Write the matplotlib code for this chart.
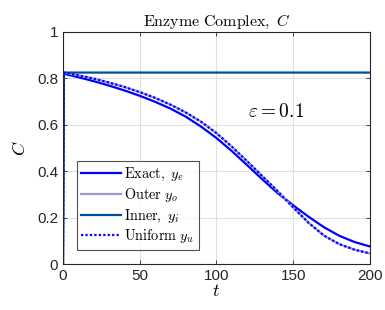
import matplotlib
matplotlib.use("Agg")
import matplotlib.pyplot as plt

plt.rcParams['mathtext.fontset'] = 'cm'
plt.rcParams['font.family'] = ['Liberation Sans', 'DejaVu Sans']

# Exact solution (solid)
t_exact = [0, 0.5, 10, 20, 30, 40, 50, 60, 70, 80, 90, 100, 110, 120, 130, 140,
           150, 160, 170, 180, 190, 200]
c_exact = [0, 0.820, 0.805, 0.788, 0.769, 0.748, 0.725, 0.699, 0.670, 0.635, 0.592,
           0.543, 0.487, 0.426, 0.364, 0.305, 0.253, 0.204, 0.159, 0.122, 0.095, 0.076]

# Outer solution
t_outer = [0, 10, 20, 30, 40, 50, 60, 70, 80, 90, 100, 110, 120, 130, 140,
           150, 160, 170, 180, 190, 200]
c_outer = [0.825, 0.813, 0.799, 0.782, 0.763, 0.741, 0.716, 0.687, 0.653, 0.613,
           0.564, 0.506, 0.443, 0.378, 0.313, 0.244, 0.178, 0.123, 0.086, 0.062, 0.046]

# Inner solution
t_inner = [0, 0.5, 200]
c_inner = [0, 0.825, 0.825]

# Uniform solution
t_unif = [0, 0.5] + t_outer[1:]
c_unif = [0, 0.825] + c_outer[1:]

fig = plt.figure(figsize=(3.85, 3.10), dpi=100)
ax = fig.add_axes([0.1636, 0.148, 0.7974, 0.749])

ax.plot(t_exact, c_exact, color=(0, 0, 1), lw=1.6, label=r'$\mathrm{Exact,}\ y_e$')
ax.plot(t_outer, c_outer, color=(0.6, 0.6, 0.85), lw=1.6, label=r'$\mathrm{Outer}\ y_o$')
ax.plot(t_inner, c_inner, color=(0.0, 0.3, 0.6), lw=1.6, label=r'$\mathrm{Inner,}\ y_i$')
ax.plot(t_unif, c_unif, color=(0, 0, 1), lw=1.6, ls=(0, (1, 1)), label=r'$\mathrm{Uniform}\ y_u$')

ax.set_xlim(0, 200)
ax.set_ylim(0, 1)
ax.set_xticks([0, 50, 100, 150, 200])
ax.set_yticks([0, 0.2, 0.4, 0.6, 0.8, 1])
ax.set_yticklabels(['0', '0.2', '0.4', '0.6', '0.8', '1'])
ax.tick_params(direction='in', top=True, right=True, labelsize=11, length=3, width=0.6,
               labelcolor='#262626', color='#262626')
ax.grid(True, color='#e0e0e0', lw=0.8)
ax.set_axisbelow(True)
for s in ax.spines.values():
    s.set_linewidth(0.8)
    s.set_color('#262626')

ax.set_title(r'$\mathrm{Enzyme\ Complex,}\ C$', fontsize=11.5, pad=4)
ax.set_xlabel(r'$t$', fontsize=13, labelpad=0)
ax.set_ylabel(r'$C$', fontsize=13, labelpad=6)
ax.text(139, 0.657, r'$\varepsilon = 0.1$', fontsize=14, ha='center', va='center')

leg = ax.legend(loc='lower left', bbox_to_anchor=(0.045, 0.062), fontsize=10.3,
                frameon=True, fancybox=False, handlelength=2.8, handletextpad=0.2,
                borderpad=0.3, labelspacing=0.2, borderaxespad=0)
leg.get_frame().set_edgecolor('#262626')
leg.get_frame().set_linewidth(0.8)

fig.savefig('out.png', dpi=100)
